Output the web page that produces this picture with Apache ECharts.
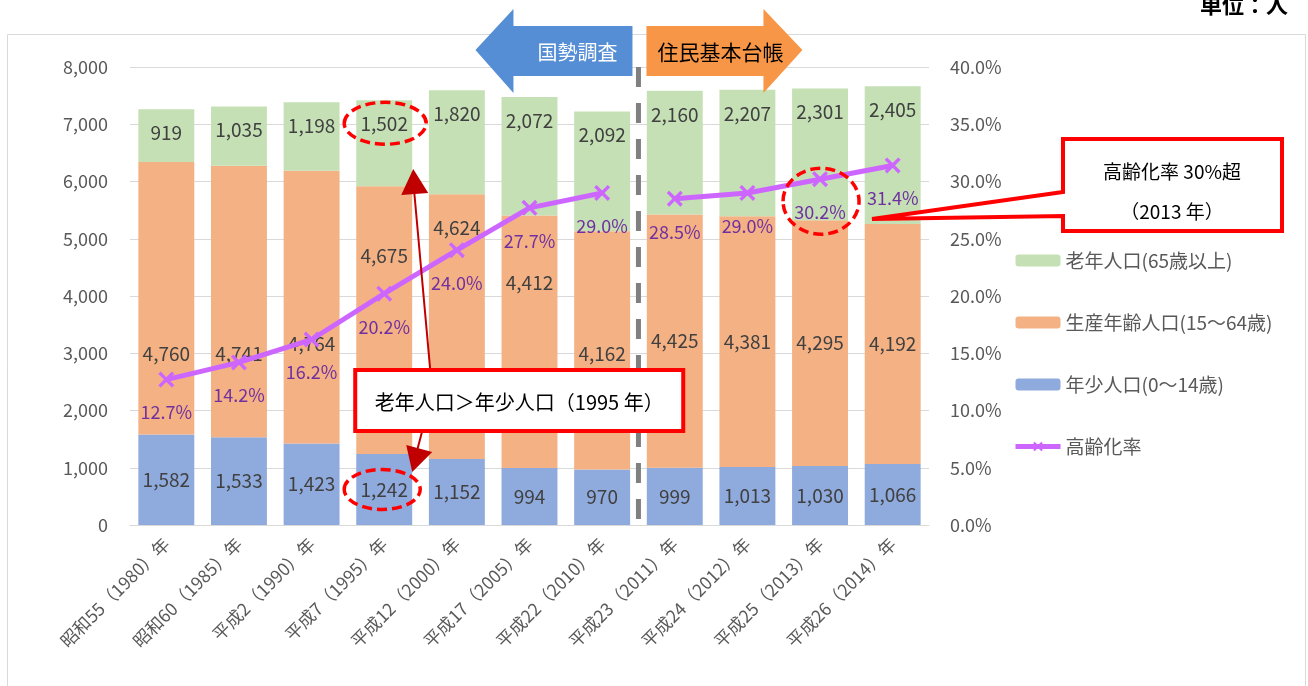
<!DOCTYPE html>
<html>
<head>
<meta charset="utf-8">
<script src="https://cdn.jsdelivr.net/npm/echarts@6/dist/echarts.min.js"></script>
<style>
  html, body { margin: 0; padding: 0; background: #fff; }
  #chart { width: 1308px; height: 686px; }
</style>
</head>
<body>
<div id="chart"></div>
<script>
  // 年次
  var categories = ['昭和55（1980）年', '昭和60（1985）年', '平成2（1990）年', '平成7（1995）年', '平成12（2000）年',
    '平成17（2005）年', '平成22（2010）年', '平成23（2011）年', '平成24（2012）年', '平成25（2013）年', '平成26（2014）年'];
  // 人口（人）
  var young = [1582, 1533, 1423, 1242, 1152, 994, 970, 999, 1013, 1030, 1066];
  var working = [4760, 4741, 4764, 4675, 4624, 4412, 4162, 4425, 4381, 4295, 4192];
  var elderly = [919, 1035, 1198, 1502, 1820, 2072, 2092, 2160, 2207, 2301, 2405];
  // 高齢化率（％）国勢調査 / 住民基本台帳
  var censusRate = [12.7, 14.2, 16.2, 20.2, 24.0, 27.7, 29.0];
  var registryRate = [28.5, 29.0, 30.2, 31.4];
  var leftTicks = [0, 8000, 1000];
  var rightTicks = [0, 40, 5];

  // 生産年齢人口ラベルの上下ずらし(px)
  var workingLabelDy = [56, 52, 37, -64, -99, -59, 3, 0, 0, 0, 0];

  var font = '"Noto Sans CJK JP", "Noto Sans", sans-serif';
  var gray = '#595959';

  function comma(v) {
    return Number(v).toLocaleString('en-US');
  }

  var censusData = censusRate.concat(registryRate.map(function () { return '-'; }));
  var registryData = censusRate.map(function () { return '-'; }).concat(registryRate);

  var xMark = 'path://M0,1.5 L1.5,0 L5,3.5 L8.5,0 L10,1.5 L6.5,5 L10,8.5 L8.5,10 L5,6.5 L1.5,10 L0,8.5 L3.5,5 Z';

  var barLabel = {
    show: true,
    color: '#404040',
    fontSize: 19,
    fontFamily: font,
    formatter: function (p) { return comma(p.value); }
  };

  var rateLabel = {
    show: true,
    position: 'bottom',
    distance: 16,
    color: '#7030A0',
    fontSize: 18,
    fontFamily: font,
    formatter: function (p) { return Number(p.value).toFixed(1) + '%'; }
  };

  var chart = echarts.init(document.getElementById('chart'));

  var option = {
    animation: false,
    textStyle: { fontFamily: font },
    grid: { left: 130, right: 379, top: 67, bottom: 161 },
    legend: {
      orient: 'vertical',
      left: 1008,
      top: 246,
      itemWidth: 45,
      itemHeight: 12,
      itemGap: 43,
      data: ['老年人口(65歳以上)', '生産年齢人口(15～64歳)', '年少人口(0～14歳)',
        { name: '高齢化率', itemStyle: { color: '#CC66FF' }, lineStyle: { width: 5, color: '#CC66FF' } }],
      textStyle: { color: gray, fontSize: 19, fontFamily: font }
    },
    xAxis: {
      type: 'category',
      data: categories,
      axisTick: { show: false },
      axisLine: { lineStyle: { color: '#D9D9D9' } },
      axisLabel: { rotate: 45, color: gray, fontSize: 17.5, fontFamily: font, margin: 16, interval: 0 }
    },
    yAxis: [
      {
        type: 'value',
        min: leftTicks[0],
        max: leftTicks[1],
        interval: leftTicks[2],
        axisLabel: { color: gray, fontSize: 18, fontFamily: font, margin: 22, formatter: comma },
        splitLine: { lineStyle: { color: '#D9D9D9' } }
      },
      {
        type: 'value',
        min: rightTicks[0],
        max: rightTicks[1],
        interval: rightTicks[2],
        axisLabel: {
          color: gray, fontSize: 18, fontFamily: font, margin: 21,
          formatter: function (v) { return v.toFixed(1) + '%'; }
        },
        splitLine: { show: false }
      }
    ],
    series: [
      {
        name: '年少人口(0～14歳)',
        type: 'bar',
        stack: 'pop',
        barCategoryGap: '23%',
        itemStyle: { color: '#8FAADC' },
        label: barLabel,
        data: young
      },
      {
        name: '生産年齢人口(15～64歳)',
        type: 'bar',
        stack: 'pop',
        itemStyle: { color: '#F4B183' },
        label: barLabel,
        data: working.map(function (v, i) {
          return { value: v, label: { offset: [0, workingLabelDy[i]] } };
        })
      },
      {
        name: '老年人口(65歳以上)',
        type: 'bar',
        stack: 'pop',
        itemStyle: { color: '#C5E0B4' },
        label: Object.assign({}, barLabel, { position: 'insideTop', distance: 14 }),
        data: elderly
      },
      {
        name: '高齢化率',
        type: 'line',
        yAxisIndex: 1,
        symbol: xMark,
        symbolSize: 16,
        lineStyle: { color: '#CC66FF', width: 5 },
        itemStyle: { color: '#CC66FF' },
        label: rateLabel,
        data: censusData,
        z: 5
      },
      {
        name: '高齢化率',
        type: 'line',
        yAxisIndex: 1,
        symbol: xMark,
        symbolSize: 16,
        lineStyle: { color: '#CC66FF', width: 5 },
        itemStyle: { color: '#CC66FF' },
        label: rateLabel,
        data: registryData,
        z: 5
      }
    ]
  };

  chart.setOption(option);

  // 注記（位置は軸から求める）
  function px(i, v) { return chart.convertToPixel({ seriesIndex: 0 }, [i, v]); }
  function pxRate(i, v) { return chart.convertToPixel({ seriesIndex: 4 }, [i, v]); }

  var divX = (px(6, 0)[0] + px(7, 0)[0]) / 2;
  var yTop = px(0, leftTicks[1])[1];
  var yBase = px(0, 0)[1];
  var c3 = px(3, 0)[0];
  var top3 = px(3, young[3] + working[3] + elderly[3])[1];
  var mid3 = px(3, young[3] / 2)[1];
  var p9 = pxRate(9, registryRate[2]);
  var red = '#FF0000';
  var darkRed = '#C00000';

  var graphics = [
    // 外枠
    { type: 'rect', z: 0, silent: true, shape: { x: 7.5, y: 34.5, width: 1298, height: 700 },
      style: { fill: 'none', stroke: '#D9D9D9', lineWidth: 1 } },
    // 単位
    { type: 'text', x: 1288, y: 5, style: { text: '単位：人', align: 'right', verticalAlign: 'middle',
      fontSize: 22, fontWeight: 'bold', fontFamily: font, fill: '#000' } },
    // 区切り線
    { type: 'line', z: 10, shape: { x1: divX, y1: yTop, x2: divX, y2: yBase },
      style: { stroke: '#808080', lineWidth: 5, lineDash: [20, 16] } },
    // 国勢調査 矢印
    { type: 'polygon', z: 20, shape: { points: [
      [divX - 6, 26], [divX - 125, 26], [divX - 125, 9], [divX - 163, 50],
      [divX - 125, 93], [divX - 125, 76], [divX - 6, 76]] },
      style: { fill: '#558ED5' } },
    { type: 'text', z: 21, x: divX - 61, y: 52, style: { text: '国勢調査', align: 'center', verticalAlign: 'middle',
      fontSize: 20, fontFamily: font, fill: '#fff' } },
    // 住民基本台帳 矢印
    { type: 'polygon', z: 20, shape: { points: [
      [divX + 8, 26], [divX + 125, 26], [divX + 125, 9], [divX + 164, 50],
      [divX + 125, 93], [divX + 125, 76], [divX + 8, 76]] },
      style: { fill: '#F79646' } },
    { type: 'text', z: 21, x: divX + 82, y: 52, style: { text: '住民基本台帳', align: 'center', verticalAlign: 'middle',
      fontSize: 21, fontFamily: font, fill: '#000' } },
    // 点線の楕円
    { type: 'ellipse', z: 30, shape: { cx: c3 + 1, cy: top3 + 23, rx: 41, ry: 21 },
      style: { fill: 'none', stroke: red, lineWidth: 3.5, lineDash: [10, 5] } },
    { type: 'ellipse', z: 30, shape: { cx: c3 - 2, cy: mid3, rx: 38, ry: 20 },
      style: { fill: 'none', stroke: red, lineWidth: 3.5, lineDash: [10, 5] } },
    { type: 'ellipse', z: 30, shape: { cx: p9[0] + 1, cy: p9[1] + 22, rx: 38, ry: 33 },
      style: { fill: 'none', stroke: red, lineWidth: 3.5, lineDash: [10, 5] } },
    // 1995年 矢印
    { type: 'line', z: 30, shape: { x1: c3 + 46, y1: 370, x2: c3 + 30, y2: 192 },
      style: { stroke: darkRed, lineWidth: 2 } },
    { type: 'polygon', z: 30, shape: { points: [[c3 + 29, 169], [c3 + 17, 195], [c3 + 44, 193]] },
      style: { fill: darkRed } },
    { type: 'line', z: 30, shape: { x1: c3 + 38, y1: 431, x2: c3 + 33, y2: 450 },
      style: { stroke: darkRed, lineWidth: 2 } },
    { type: 'polygon', z: 30, shape: { points: [[c3 + 28, 472], [c3 + 22, 445], [c3 + 48, 452]] },
      style: { fill: darkRed } },
    // 1995年 注記
    { type: 'rect', z: 31, shape: { x: c3 - 29, y: 370, width: 328, height: 61 },
      style: { fill: '#fff', stroke: red, lineWidth: 4 } },
    { type: 'text', z: 32, x: c3 + 135, y: 402, style: { text: '老年人口＞年少人口（1995 年）', align: 'center',
      verticalAlign: 'middle', fontSize: 20, fontFamily: font, fill: '#000' } },
    // 2013年 吹き出し
    { type: 'polygon', z: 31, shape: { points: [
      [1063, 139], [1282, 139], [1282, 231], [1063, 231], [1063, 216], [872, 219], [1063, 192]] },
      style: { fill: '#fff', stroke: red, lineWidth: 4, lineJoin: 'miter' } },
    { type: 'text', z: 32, x: 1172, y: 172, style: { text: '高齢化率 30%超', align: 'center',
      verticalAlign: 'middle', fontSize: 19, fontFamily: font, fill: '#000' } },
    { type: 'text', z: 32, x: 1172, y: 212, style: { text: '（2013 年）', align: 'center',
      verticalAlign: 'middle', fontSize: 19, fontFamily: font, fill: '#000' } }
  ];

  chart.setOption({ graphic: graphics });
</script>
</body>
</html>
